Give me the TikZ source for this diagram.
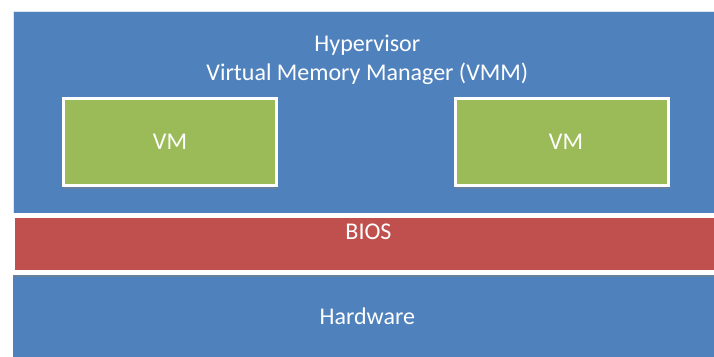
\documentclass[tikz,border=0pt]{standalone}
\usepackage{fontspec}
\setmainfont{Carlito}
\usetikzlibrary{positioning, shadows}
\definecolor{layerblue}{RGB}{79, 129, 189}
\definecolor{biosred}{RGB}{192, 80, 77}
\definecolor{vmgreen}{RGB}{155, 187, 89}

\begin{document}
\begin{tikzpicture}[
  x=1pt, y=1pt,
  layer/.style={fill=layerblue, draw=white!80!layerblue, line width=0.6pt, minimum width=708pt, inner sep=0pt, anchor=north west},
  biosbar/.style={fill=biosred, draw=white, line width=5pt, minimum width=712pt, minimum height=57pt, inner sep=0pt, drop shadow={shadow xshift=0pt, shadow yshift=-4.5pt, opacity=0.55}},
  vmbox/.style={fill=vmgreen, draw=white, line width=3pt, minimum width=213pt, minimum height=87pt, inner sep=0pt, drop shadow={shadow xshift=0.5pt, shadow yshift=-4pt, opacity=0.45}},
  lbl/.style={text=white, inner sep=0pt, font=\fontsize{24}{29}\selectfont}
]
  \useasboundingbox (0, 0) rectangle (714, 356);
  \fill[white] (0, 0) rectangle (714, 356);
  \clip (0, 0) rectangle (714, 356);

  \node[layer, minimum height=202pt] (hypervisor) at (13, 345) {};
  \node[lbl, align=center, below=24pt of hypervisor.north] (hvtitle) {Hypervisor\\Virtual Memory Manager (VMM)};

  \node[vmbox] (vmleft) at (170, 214) {};
  \node[lbl] at (vmleft.center) {VM};
  \node[vmbox] (vmright) at (562, 214) {};
  \node[lbl] at ([xshift=4pt]vmright.center) {VM};

  \node[layer, draw=none, minimum height=84pt] (hardware) at (13, 81) {};
  \node[lbl] at ([yshift=1pt]hardware.center) {Hardware};

  \node[biosbar] (bios) at (368.5, 112) {};
  \node[lbl] at ([yshift=12pt]bios.center) {BIOS};
\end{tikzpicture}
\end{document}
